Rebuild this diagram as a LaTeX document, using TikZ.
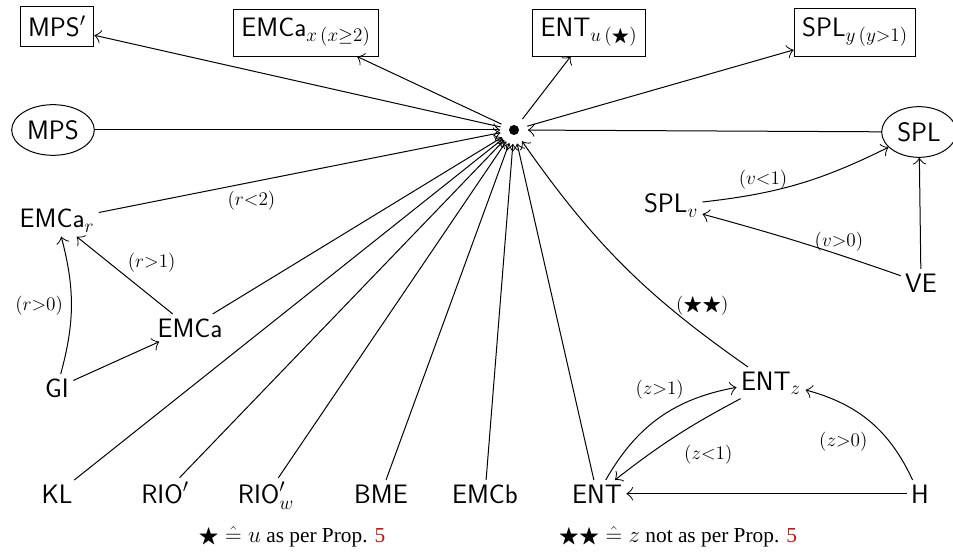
\documentclass[tikz,border=0pt]{standalone}
\usepackage{amssymb}
\usepackage{fontspec}
\newfontfamily\notefont{Liberation Serif}
\usetikzlibrary{shapes.geometric,arrows.meta}
\definecolor{propred}{RGB}{190,20,20}

\tikzset{every picture/.style={line width=0.75pt}}
\tikzset{
  >={Classical TikZ Rightarrow[length=5pt, width=10pt]},
  txt/.style={font=\fontsize{20}{24}\sffamily, inner sep=3pt, anchor=base},
  txtbox/.style={txt, draw, inner xsep=6pt, inner ysep=7pt},
  txtell/.style={font=\fontsize{20}{24}\sffamily, draw, ellipse, minimum width=62pt, minimum height=38pt, inner sep=0pt},
  lbl/.style={font=\fontsize{15}{17}\selectfont, inner sep=2pt},
  note/.style={font=\fontsize{16}{18}\notefont},
  hub/.style={circle, minimum size=20pt, inner sep=0pt},
}

\begin{document}
\begin{tikzpicture}[x=0.75pt,y=0.75pt,yscale=-1,xscale=1]
	\useasboundingbox (0,0) rectangle (953,552);

	% hub
	\node[hub] (hub) at (514,130) {};
	\fill (hub) circle (5);

	% top boxes
	\node[txtbox] (mpsp) at (57,37) {MPS$'$};
	\node[txtbox] (emcax) at (306,37) {EMCa$_{x\,(x\geq 2)}$};
	\node[txtbox] (entu) at (589,37) {ENT$_{u\,(\bigstar)}$};
	\node[txtbox] (sply) at (855,37) {SPL$_{y\,(y>1)}$};

	% ellipses
	\node[txtell] (mps) at (53,130) {MPS};
	\node[txtell, minimum width=56pt] (spl) at (919,132) {SPL};

	% left part
	\node[txt] (emcar) at (57,228) {EMCa$_r$};
	\node[txt] (emca) at (190,337) {EMCa};
	\node[txt] (gi) at (57,397) {GI};

	% right part
	\node[txt] (splv) at (671,213) {SPL$_v$};
	\node[txt] (ve) at (921,292) {VE};
	\node[txt] (entz) at (771,390) {ENT$_z$};

	% bottom row
	\node[txt] (kl) at (57,503) {KL};
	\node[txt] (riop) at (165,503) {RIO$'$};
	\node[txt] (riow) at (266,503) {RIO$'_w$};
	\node[txt] (bme) at (381,503) {BME};
	\node[txt] (emcb) at (485,503) {EMCb};
	\node[txt] (ent) at (597,503) {ENT};
	\node[txt] (h) at (920,503) {H};

	% notes
	\node[note] (note1) at (292,537) {$\bigstar \mathrel{\hat{=}} u$ as per Prop. \textcolor{propred}{5}};
	\node[note] (note2) at (678,537) {$\bigstar\bigstar \mathrel{\hat{=}} z$ not as per Prop. \textcolor{propred}{5}};

	% out of the hub
	\draw[->] (hub) -- (mpsp);
	\draw[->] (hub) -- (emcax);
	\draw[->] (hub) -- (entu);
	\draw[->] (hub) -- (sply);

	% into the hub
	\draw[->] (mps) -- (hub);
	\draw[->] (spl) -- (hub);
	\draw[->] (emcar) -- node[lbl, pos=0.38, below=4pt] {$(r{<}2)$} (hub);
	\foreach \n in {emca,kl,riop,riow,bme,emcb,ent}
		\draw[->] (\n) -- (hub);
	\draw[->] (entz) to[bend right=10] node[lbl, pos=0.3, right=4pt] {$(\bigstar\bigstar)$} (hub);

	% left group
	\draw[->] (emca) -- node[lbl, above right] {$(r{>}1)$} (emcar);
	\draw[->] (gi) to[bend left=15] node[lbl, left=4pt] {$(r{>}0)$} (emcar);
	\draw[->] (gi) -- (emca);

	% right group
	\draw[->] (splv) to[bend left=10] node[lbl, pos=0.3, above] {$(v{<}1)$} (spl);
	\draw[->] (ve) to[bend left=2] node[lbl, pos=0.3, above] {$(v{>}0)$} (splv);
	\draw[->] (ve) -- (spl);

	% ENT group
	\draw[->] (ent) to[bend right=25] node[lbl, pos=0.7, above left] {$(z{>}1)$} (entz);
	\draw[->] (entz) to[bend left=5] node[lbl, pos=0.5, below right=4pt] {$(z{<}1)$} (ent);
	\draw[->] (h) to[bend left=25] node[lbl, pos=0.3, left=14pt] {$(z{>}0)$} (entz);
	\draw[->] (h) -- (ent);

\end{tikzpicture}
\end{document}
